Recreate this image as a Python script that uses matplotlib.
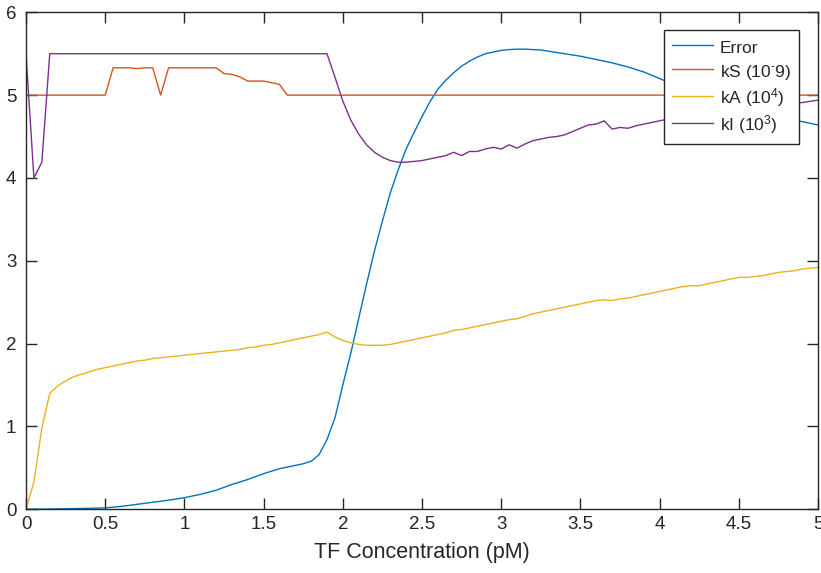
import numpy as np
import matplotlib
matplotlib.use("Agg")
import matplotlib.pyplot as plt

plt.rcParams['font.family'] = ['Liberation Sans', 'DejaVu Sans']
plt.rcParams['mathtext.fontset'] = 'custom'
plt.rcParams['mathtext.rm'] = 'Liberation Sans'
plt.rcParams['mathtext.it'] = 'Liberation Sans:italic'
plt.rcParams['mathtext.default'] = 'regular'

# TF concentration grid (pM)
tf_conc = np.round(np.arange(0, 5.0001, 0.05), 2)

error = [
    0.0, 0.001, 0.002, 0.003, 0.004, 0.006, 0.008, 0.010, 0.012, 0.015,
    0.018, 0.026, 0.035, 0.047, 0.060, 0.072, 0.085, 0.097, 0.110, 0.125,
    0.140, 0.160, 0.180, 0.205, 0.230, 0.265, 0.300, 0.330, 0.360, 0.395,
    0.430, 0.460, 0.490, 0.510, 0.530, 0.550, 0.580, 0.660, 0.840, 1.100,
    1.500, 1.880, 2.300, 2.720, 3.120, 3.480, 3.820, 4.100, 4.350, 4.550,
    4.740, 4.920, 5.070, 5.180, 5.270, 5.350, 5.410, 5.460, 5.500, 5.520,
    5.540, 5.550, 5.555, 5.555, 5.550, 5.545, 5.530, 5.515, 5.500, 5.485,
    5.470, 5.450, 5.430, 5.410, 5.390, 5.365, 5.340, 5.310, 5.280, 5.240,
    5.200, 5.160, 5.130, 5.100, 5.070, 5.040, 5.010, 4.980, 4.950, 4.920,
    4.890, 4.860, 4.830, 4.800, 4.770, 4.740, 4.720, 4.700, 4.680, 4.660,
    4.640,
]

k_s = [
    5.00, 5.00, 5.00, 5.00, 5.00, 5.00, 5.00, 5.00, 5.00, 5.00,
    5.00, 5.33, 5.33, 5.33, 5.32, 5.33, 5.33, 5.00, 5.33, 5.33,
    5.33, 5.33, 5.33, 5.33, 5.33, 5.26, 5.25, 5.22, 5.17, 5.17,
    5.17, 5.15, 5.13, 5.00, 5.00, 5.00, 5.00, 5.00, 5.00, 5.00,
] + [5.00] * 61

k_a = [
    0.00, 0.33, 0.98, 1.40, 1.49, 1.55, 1.60, 1.63, 1.66, 1.69,
    1.71, 1.73, 1.75, 1.77, 1.79, 1.80, 1.82, 1.83, 1.84, 1.85,
    1.86, 1.87, 1.88, 1.89, 1.90, 1.91, 1.92, 1.93, 1.95, 1.96,
    1.98, 1.99, 2.01, 2.03, 2.05, 2.07, 2.09, 2.11, 2.14, 2.08,
    2.04, 2.01, 1.99, 1.98, 1.98, 1.98, 1.99, 2.01, 2.03, 2.05,
    2.07, 2.09, 2.11, 2.13, 2.16, 2.17, 2.19, 2.21, 2.23, 2.25,
    2.27, 2.29, 2.30, 2.33, 2.36, 2.38, 2.40, 2.42, 2.44, 2.46,
    2.48, 2.50, 2.52, 2.53, 2.52, 2.54, 2.55, 2.57, 2.59, 2.61,
    2.63, 2.65, 2.67, 2.69, 2.70, 2.70, 2.72, 2.74, 2.76, 2.78,
    2.80, 2.80, 2.81, 2.82, 2.84, 2.86, 2.87, 2.88, 2.90, 2.91,
    2.92,
]

k_i = [
    5.50, 4.00, 4.19, 5.50, 5.50, 5.50, 5.50, 5.50, 5.50, 5.50,
    5.50, 5.50, 5.50, 5.50, 5.50, 5.50, 5.50, 5.50, 5.50, 5.50,
    5.50, 5.50, 5.50, 5.50, 5.50, 5.50, 5.50, 5.50, 5.50, 5.50,
    5.50, 5.50, 5.50, 5.50, 5.50, 5.50, 5.50, 5.50, 5.50, 5.22,
    4.93, 4.70, 4.53, 4.40, 4.31, 4.25, 4.21, 4.19, 4.19, 4.20,
    4.21, 4.23, 4.25, 4.27, 4.31, 4.27, 4.32, 4.32, 4.35, 4.37,
    4.35, 4.40, 4.36, 4.41, 4.45, 4.47, 4.49, 4.50, 4.52, 4.56,
    4.60, 4.64, 4.65, 4.69, 4.59, 4.61, 4.60, 4.63, 4.65, 4.67,
    4.69, 4.71, 4.72, 4.74, 4.75, 4.77, 4.78, 4.80, 4.81, 4.82,
    4.84, 4.85, 4.86, 4.87, 4.88, 4.89, 4.90, 4.905, 4.91, 4.925,
    4.94,
]

series_labels = ['Error', 'kS (10$^{\u2010}$9)', r'kA (10$^{4}$)', r'kI (10$^{3}$)']
series_colors = ['#0072BD', '#D95319', '#EDB120', '#7E2F8E']

x_ticks = [0, 0.5, 1, 1.5, 2, 2.5, 3, 3.5, 4, 4.5, 5]
x_tick_labels = ['0', '0.5', '1', '1.5', '2', '2.5', '3', '3.5', '4', '4.5', '5']
y_ticks = [0, 1, 2, 3, 4, 5, 6]

fig = plt.figure(figsize=(8.21, 5.73), dpi=100)
ax = fig.add_axes([26 / 821, (573 - 509.3) / 573, 792 / 821, 497 / 573])

for vals, lab, col in zip([error, k_s, k_a, k_i], series_labels, series_colors):
    ax.plot(tf_conc, vals, color=col, lw=1.0, label=lab)

ax.set_xlim(0, 5)
ax.set_ylim(0, 6)
ax.set_xticks(x_ticks)
ax.set_xticklabels(x_tick_labels)
ax.set_yticks(y_ticks)

axis_color = '#262626'
for sp in ax.spines.values():
    sp.set_color(axis_color)
    sp.set_linewidth(1.0)
ax.tick_params(direction='in', length=8, width=1.0, colors=axis_color,
               labelsize=13.5, top=True, right=True, pad=5)
ax.tick_params(axis='y', pad=7)

ax.set_xlabel('TF Concentration (pM)', fontsize=15.5, color=axis_color, labelpad=6)

leg = ax.legend(loc='upper right', bbox_to_anchor=((799 - 26) / 792, (509.3 - 30) / 497),
                borderaxespad=0, fontsize=12.5, frameon=True, fancybox=False,
                framealpha=1, edgecolor=axis_color, handlelength=2.35,
                handletextpad=0.4, handleheight=1.3, labelspacing=0.26,
                borderpad=0.45)
leg.get_frame().set_linewidth(1.0)
for t in leg.get_texts():
    t.set_color(axis_color)

fig.savefig('out.png', dpi=100)
